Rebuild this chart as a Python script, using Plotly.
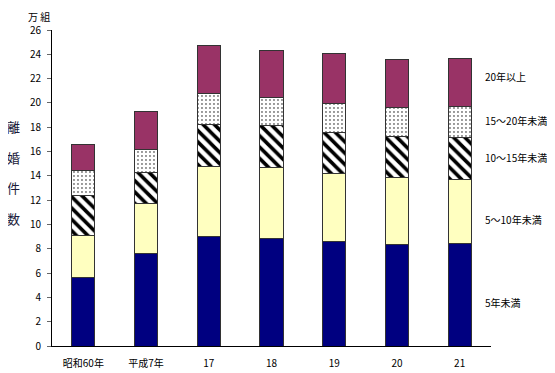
import plotly.graph_objects as go

categories = ["昭和60年", "平成7年", "17", "18", "19", "20", "21"]
under5 = [5.64, 7.64, 9.04, 8.87, 8.63, 8.36, 8.46]
y5_10 = [3.46, 4.09, 5.70, 5.81, 5.59, 5.50, 5.26]
y10_15 = [3.28, 2.54, 3.50, 3.48, 3.36, 3.37, 3.43]
y15_20 = [2.08, 1.86, 2.55, 2.32, 2.36, 2.38, 2.54]
over20 = [2.11, 3.20, 3.91, 3.81, 4.11, 3.95, 4.00]

series_names = ["5年未満", "5～10年未満", "10～15年未満", "15～20年未満", "20年以上"]
y_ticks = list(range(0, 27, 2))

FONT = "Noto Sans CJK JP"
line = dict(color="#333333", width=1)

fig = go.Figure()
fig.add_bar(x=categories, y=under5, name=series_names[0],
            marker=dict(color="#000080", line=line))
fig.add_bar(x=categories, y=y5_10, name=series_names[1],
            marker=dict(color="#FFFFC0", line=line))
fig.add_bar(x=categories, y=y10_15, name=series_names[2],
            marker=dict(color="white", line=line,
                        pattern=dict(shape="\\", fgcolor="black", bgcolor="white",
                                     size=8, solidity=0.45, fillmode="replace")))
fig.add_bar(x=categories, y=y15_20, name=series_names[3],
            marker=dict(color="white", line=line,
                        pattern=dict(shape=".", fgcolor="black", bgcolor="white",
                                     size=4, solidity=0.1, fillmode="replace")))
fig.add_bar(x=categories, y=over20, name=series_names[4],
            marker=dict(color="#993366", line=line))

# plot area in page pixels: x 52..491, y 30..346 (page body has 8px margin)
PX0, PX1, PY0, PY1 = 52, 491, 30, 346
PW, PH = PX1 - PX0, PY1 - PY0

label_pos = [3.62, 10.44, 15.53, 18.57, 22.2]
annotations = []
for name, yy in zip(series_names, label_pos):
    annotations.append(dict(text=name, xref="paper", yref="y", x=(483 - PX0) / PW,
                            y=yy, xanchor="left", yanchor="middle", showarrow=False,
                            font=dict(size=10, color="black", family=FONT)))

for ch, py in zip("離婚件数", [127, 157, 187, 218]):
    annotations.append(dict(text=ch, xref="paper", yref="paper",
                            x=(13 - PX0) / PW, y=(PY1 - py) / PH,
                            xanchor="center", yanchor="middle", showarrow=False,
                            font=dict(size=13, color="#1a1a3a", family=FONT)))

annotations.append(dict(text="万 組", xref="paper", yref="paper",
                        x=(39 - PX0) / PW, y=(PY1 - 8) / PH,
                        xanchor="center", yanchor="top", showarrow=False, borderpad=0,
                        font=dict(size=10, color="black", family=FONT)))

W, H = 547, 365
fig.update_layout(
    width=W, height=H,
    margin=dict(l=PX0 - 8, r=W + 8 - PX1, t=PY0 - 8, b=H + 8 - PY1, autoexpand=False),
    barmode="stack", bargap=0.63,
    showlegend=False,
    plot_bgcolor="white", paper_bgcolor="white",
    font=dict(family=FONT, size=10, color="black"),
    annotations=annotations,
    xaxis=dict(showline=True, linecolor="black", linewidth=1, ticks="",
               showgrid=False, tickfont=dict(size=10), automargin=False,
               ticklabelstandoff=8),
    yaxis=dict(range=[0, 26], tickvals=y_ticks, showline=True, linecolor="black",
               linewidth=1, ticks="outside", ticklen=4, tickcolor="#666666",
               showgrid=False, zeroline=False, tickfont=dict(size=10),
               automargin=False, ticklabelstandoff=4),
)

fig.write_html("out.html")
